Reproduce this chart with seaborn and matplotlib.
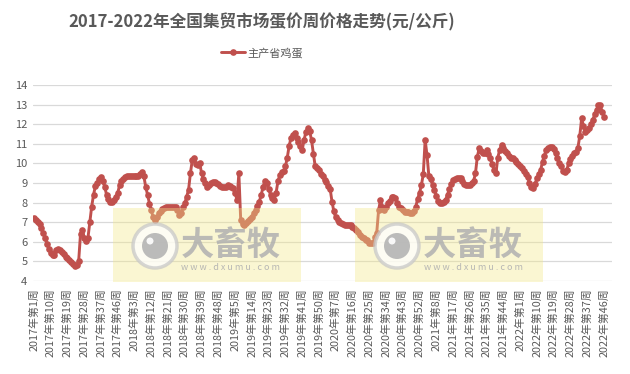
import numpy as np
import pandas as pd
import matplotlib
matplotlib.use("Agg")
import matplotlib.pyplot as plt
import seaborn as sns
from matplotlib.patches import Rectangle, Ellipse

sns.set_theme(style="white")
plt.rcParams['font.family'] = ['Noto Sans CJK SC', 'DejaVu Sans']

#--------------------------------------------------------------------------------------
# weekly egg price, 元/公斤
years = [2017, 2018, 2019, 2020, 2021, 2022]
weeks_in_year = [52, 52, 52, 53, 52, 46]

p2017 = [7.20, 7.10, 7.00, 6.90, 6.70, 6.45, 6.20, 5.90, 5.65, 5.45,
         5.35, 5.35, 5.60, 5.65, 5.60, 5.50, 5.40, 5.25, 5.15, 5.05,
         4.95, 4.85, 4.78, 4.80, 5.00, 6.40, 6.60, 6.20, 6.05, 6.20,
         7.00, 7.80, 8.40, 8.85, 9.00, 9.20, 9.30, 9.10, 8.80, 8.40,
         8.20, 8.05, 8.05, 8.15, 8.30, 8.50, 8.90, 9.10, 9.20, 9.30,
         9.35, 9.35]
p2018 = [9.35, 9.35, 9.35, 9.35, 9.38, 9.45, 9.58, 9.35, 8.80, 8.40,
         7.95, 7.60, 7.25, 7.10, 7.25, 7.45, 7.55, 7.65, 7.70, 7.75,
         7.80, 7.80, 7.80, 7.80, 7.78, 7.60, 7.38, 7.45, 7.75, 7.97,
         8.30, 8.65, 9.50, 10.17, 10.27, 9.95, 9.90, 10.00, 9.50, 9.20,
         9.00, 8.82, 8.90, 9.00, 9.05, 9.05, 9.00, 8.95, 8.85, 8.80,
         8.80, 8.80]
p2019 = [8.90, 8.85, 8.80, 8.73, 8.50, 8.13, 9.50, 7.10, 6.90, 6.86,
         6.94, 7.05, 7.15, 7.28, 7.45, 7.62, 7.85, 8.05, 8.40, 8.80,
         9.10, 9.00, 8.70, 8.40, 8.25, 8.13, 8.50, 9.10, 9.40, 9.55,
         9.60, 9.85, 10.30, 10.90, 11.30, 11.45, 11.53, 11.30, 11.10, 10.90,
         10.68, 11.20, 11.60, 11.79, 11.65, 11.20, 10.50, 9.85, 9.75, 9.65,
         9.45, 9.35]
p2020 = [9.15, 9.05, 8.85, 8.70, 8.05, 7.55, 7.25, 7.10, 7.00, 6.94,
         6.90, 6.86, 6.86, 6.86, 6.86, 6.75, 6.70, 6.62, 6.50, 6.35,
         6.26, 6.18, 6.10, 6.08, 5.95, 5.92, 5.92, 6.26, 6.45, 7.60,
         8.13, 7.80, 7.62, 7.75, 7.96, 8.10, 8.30, 8.28, 8.22, 8.00,
         7.80, 7.70, 7.60, 7.54, 7.52, 7.50, 7.48, 7.45, 7.55, 7.80,
         8.20, 8.50, 8.90]
p2021 = [9.45, 11.19, 10.43, 9.35, 9.20, 8.90, 8.65, 8.35, 8.10, 7.96,
         7.98, 8.05, 8.13, 8.40, 8.70, 8.95, 9.15, 9.22, 9.25, 9.25,
         9.24, 9.10, 8.95, 8.90, 8.88, 8.92, 9.00, 9.10, 9.49, 10.34,
         10.77, 10.65, 10.55, 10.51, 10.68, 10.50, 10.26, 9.95, 9.66, 9.49,
         10.30, 10.68, 10.94, 10.80, 10.65, 10.51, 10.40, 10.30, 10.26, 10.15,
         10.05, 9.95]
p2022 = [9.85, 9.75, 9.60, 9.45, 9.32, 9.00, 8.81, 8.73, 8.95, 9.24,
         9.45, 9.66, 10.09, 10.40, 10.70, 10.77, 10.82, 10.85, 10.75, 10.51,
         10.25, 10.00, 9.85, 9.62, 9.58, 9.66, 10.00, 10.20, 10.40, 10.51,
         10.58, 10.80, 11.40, 12.30, 11.90, 11.62, 11.70, 11.79, 12.00, 12.21,
         12.50, 12.72, 12.98, 12.98, 12.64, 12.38]

prices = p2017 + p2018 + p2019 + p2020 + p2021 + p2022
week_labels = ['%d年第%d周' % (y, w) for y, n in zip(years, weeks_in_year) for w in range(1, n + 1)]

title = '2017-2022年全国集贸市场蛋价周价格走势(元/公斤)'
series_name = '主产省鸡蛋'

W, H = 630, 374
def fx(px):
        return px / W
def fy(py):
        return 1 - py / H

#--------------------------------------------------------------------------------------
def watermark(fig, x0):
        # light yellow box with logo and site name, on top of the plot
        fig.add_artist(Rectangle((fx(x0), fy(282)), fx(188), 74 / H, transform=fig.transFigure,
                                 facecolor='#f3e88a', alpha=0.38, edgecolor='none', zorder=5))
        cx, cy = x0 + 42, 246
        fig.add_artist(Ellipse((fx(cx), fy(cy)), 44 / W, 44 / H, transform=fig.transFigure,
                               facecolor='white', edgecolor='#c8c8c8', linewidth=2.5, alpha=0.75, zorder=6))
        fig.add_artist(Ellipse((fx(cx), fy(cy)), 26 / W, 26 / H, transform=fig.transFigure,
                               facecolor='#b0b0b0', edgecolor='none', alpha=0.85, zorder=7))
        fig.add_artist(Ellipse((fx(cx - 5), fy(cy - 5)), 7 / W, 7 / H, transform=fig.transFigure,
                               facecolor='white', edgecolor='none', alpha=0.9, zorder=8))
        fig.text(fx(x0 + 118), fy(cy - 1), '大畜牧', ha='center', va='center', fontsize=24,
                 fontweight='bold', color='#b0b0b0', alpha=0.85, zorder=8)
        fig.text(fx(x0 + 118), fy(268), 'w w w . d x u m u . c o m', ha='center', va='center',
                 fontsize=6.5, color='#b0b0b0', alpha=0.9, zorder=8)

#--------------------------------------------------------------------------------------
def main():

        df = pd.DataFrame({'week': np.arange(len(prices)), 'price': prices, 'label': week_labels})

        fig = plt.figure(figsize=(W / 100, H / 100), dpi=100)
        ax = fig.add_axes([fx(33), fy(281), fx(612 - 33), 196 / H])

        sns.lineplot(data=df, x='week', y='price', ax=ax, color='#c0504d', linewidth=2.1,
                     marker='o', markersize=4.8, markeredgewidth=0, label=series_name, legend=False)

        ax.set_xlim(-0.5, 310.3)
        ax.set_ylim(4, 14)
        ax.set_yticks(range(4, 15))
        ax.set_xticks(df['week'][::9])
        ax.set_xticklabels(df['label'][::9], rotation=90, fontsize=7.8, color='#595959')
        ax.tick_params(axis='y', labelsize=8, labelcolor='#595959', length=0, pad=4)
        ax.tick_params(axis='x', length=0, pad=5)
        ax.set_xlabel('')
        ax.set_ylabel('')
        ax.yaxis.grid(True, color='#d9d9d9', linewidth=0.9)
        ax.xaxis.grid(False)
        for s in ax.spines.values():
                s.set_visible(False)

        fig.text(fx(262), fy(22), title, ha='center', va='center', fontsize=12,
                 fontweight='bold', color='#595959')
        handles = ax.get_lines()[:1]
        fig.legend(handles, [series_name], loc='center', bbox_to_anchor=(fx(262), fy(53)),
                   frameon=False, fontsize=8, handlelength=2.2, handletextpad=0.2,
                   labelcolor='#595959')

        watermark(fig, 113)
        watermark(fig, 355)

        fig.savefig('out.png', dpi=100)

if __name__ == '__main__':
        main()
